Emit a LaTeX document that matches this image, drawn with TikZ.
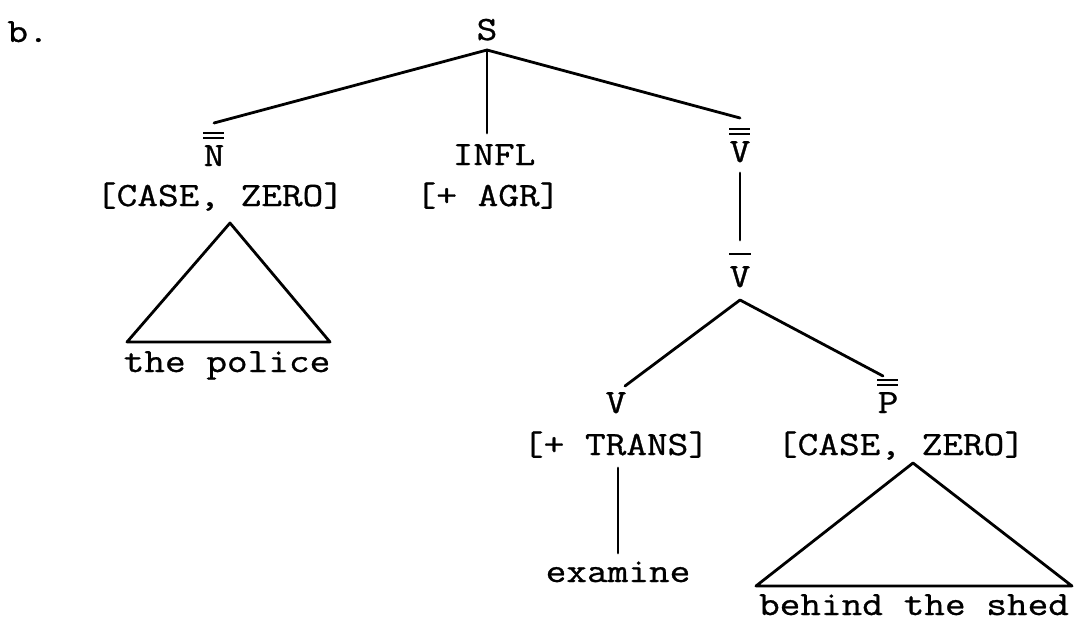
\documentclass[tikz,border=0pt]{standalone}
\usepackage{fontspec}
\usepackage{graphicx}
\setmonofont[FakeBold=0.8]{Latin Modern Mono}
\usetikzlibrary{calc}
\newcommand{\wide}[1]{\scalebox{1.18}[1]{#1}}
\begin{document}
\begin{tikzpicture}[x=1pt,y=-1pt,
  lbl/.style={font=\ttfamily\fontsize{34}{38}\selectfont, inner sep=0pt, anchor=base},
  edge/.style={line width=2.8pt, line cap=round, line join=round},
  bar/.style={line width=2.2pt}]
\useasboundingbox (0,0) rectangle (1076,624);
% labels
\node[lbl] (b)  at (28,42)   {\wide{b.}};
\node[lbl] (S)  at (487,40)  {\wide{S}};
\node[lbl] (N)  at (214,166) {\wide{N}};
\node[lbl] (NF) at (220,206) {\wide{[CASE, ZERO]}};
\node[lbl] (NP) at (227,372) {\wide{the police}};
\node[lbl] (I)  at (494,165) {\wide{INFL}};
\node[lbl] (IA) at (488,206) {\wide{[+ AGR]}};
\node[lbl] (V2) at (740,162) {\wide{V}};
\node[lbl] (V1) at (740,287) {\wide{V}};
\node[lbl] (V0) at (616,413) {\wide{V}};
\node[lbl] (VT) at (616,455) {\wide{[+ TRANS]}};
\node[lbl] (EX) at (618,582) {\wide{examine}};
\node[lbl] (P)  at (888,413) {\wide{P}};
\node[lbl] (PF) at (901,455) {\wide{[CASE, ZERO]}};
\node[lbl] (PP) at (914,615) {\wide{behind the shed}};
% bars
\foreach \n in {N,V2,P}{
  \draw[bar] ($(\n.base)+(-11,-33)$) -- ++(21,0);
  \draw[bar] ($(\n.base)+(-11,-28)$) -- ++(21,0);
}
\draw[bar] ($(V1.base)+(-11,-33)$) -- ++(22,0);
% vertices
\coordinate (Sv) at ($(S.base)+(0,10)$);
\coordinate (V1v) at ($(V1.base)+(0,13)$);
% edges
\draw[edge] (Sv) -- ($(N.base)+(0,-43)$);
\draw[edge] (Sv) -- ($(IA.base)+(-1,-73)$);
\draw[edge] (Sv) -- ($(V2.base)+(0,-44)$);
\draw[edge] ($(V2.base)+(0,11)$) -- ($(V1.base)+(0,-47)$);
\draw[edge] (V1v) -- ($(V0.base)+(9,-27)$);
\draw[edge] (V1v) -- ($(P.base)+(-5,-37)$);
\draw[edge] ($(EX.base)+(0,-114)$) -- ($(EX.base)+(0,-29)$);
% triangles
\draw[edge] ($(NF.base)+(10,17)$) -- ($(NP.base)+(-100,-30)$) -- ($(NP.base)+(103,-30)$) -- cycle;
\draw[edge] ($(PF.base)+(12,8)$) -- ($(PP.base)+(-158,-29)$) -- ($(PP.base)+(158,-29)$) -- cycle;
\end{tikzpicture}
\end{document}
